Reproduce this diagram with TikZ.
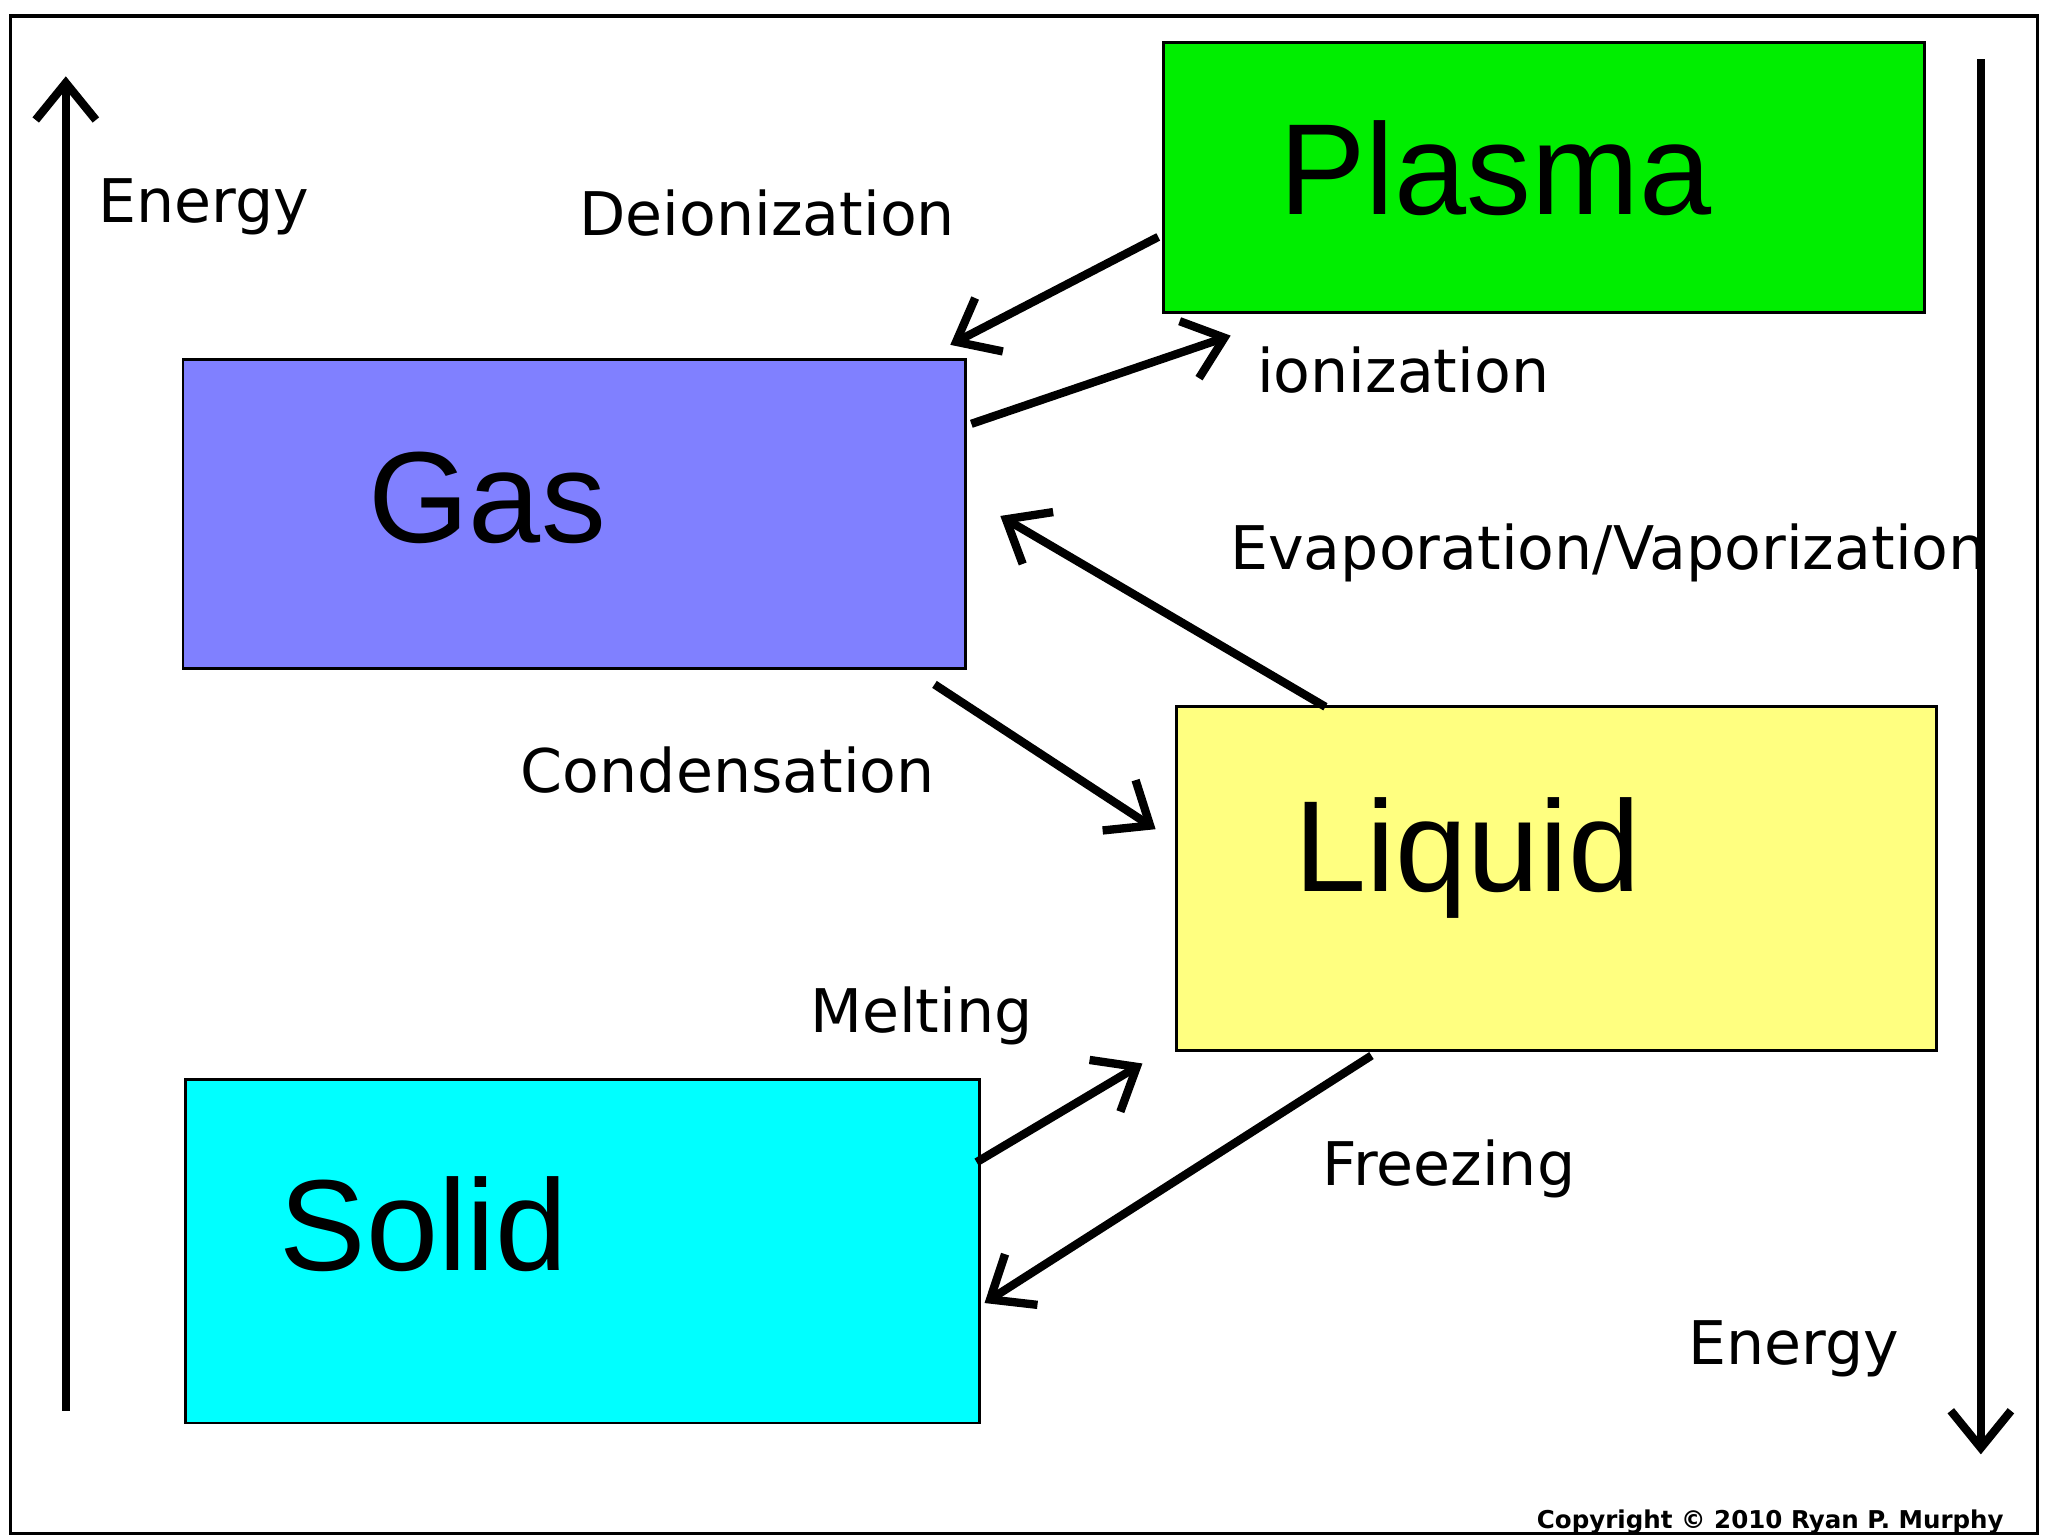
\documentclass[tikz,border=0pt]{standalone}
\usepackage{fontspec}
\setmainfont{Liberation Sans}
\newfontfamily\labelfont{DejaVu Sans}
\usetikzlibrary{arrows.meta}

\begin{document}
\begin{tikzpicture}[x=0.01cm,y=-0.01cm,>={Straight Barb[length=8pt,width=13pt]},line width=1.8pt]
  \tikzstyle{phase}=[draw=black,line width=0.6pt,anchor=north west,inner sep=0pt]
  \tikzstyle{big}=[font=\fontsize{28}{30}\selectfont]
  \tikzstyle{lbl}=[font=\labelfont\fontsize{13}{15}\selectfont]

  \useasboundingbox (0,0) rectangle (1556,1170);
  \draw[line width=0.8pt] (8,12) rectangle (1548,1165);

  \node[phase,fill={rgb,255:red,0;green,238;blue,0},minimum width=5.78cm,minimum height=2.05cm] (plasma) at (883,31) {};
  \node[phase,fill={rgb,255:red,128;green,128;blue,255},minimum width=5.94cm,minimum height=2.35cm] (gas) at (138,272) {};
  \node[phase,fill={rgb,255:red,255;green,255;blue,128},minimum width=5.77cm,minimum height=2.61cm] (liquid) at (893,536) {};
  \node[phase,fill={rgb,255:red,0;green,255;blue,255},minimum width=6.03cm,minimum height=2.61cm] (solid) at (140,819) {};

  \node[big] at (1136,128) {Plasma};
  \node[big] at (370,378) {Gas};
  \node[big] at (1115,652) {Liquid};
  \node[big] at (322,930) {Solid};

  \node[lbl] (e1) at (155,157) {Energy};
  \node[lbl] (deion) at (583,162) {Deionization};
  \node[lbl] (ion) at (1066,281) {ionization};
  \node[lbl] (evap) at (1222,420) {Evaporation/Vaporization};
  \node[lbl] (cond) at (553,585) {Condensation};
  \node[lbl] (melt) at (700,772) {Melting};
  \node[lbl] (freeze) at (1101,888) {Freezing};
  \node[lbl] (e2) at (1363,1025) {Energy};
  \node[font=\labelfont\bfseries\fontsize{5.3}{6}\selectfont] (copy) at (1345,1156) {Copyright © 2010 Ryan P. Murphy};

  % energy axes
  \coordinate (l0) at (50,1072); \coordinate (l1) at (50,58);
  \coordinate (r0) at (1505,45); \coordinate (r1) at (1505,1105);
  \draw[->] (l0) -- (l1);
  \draw[->] (r0) -- (r1);

  % transitions
  \coordinate (p1) at (880,180); \coordinate (g1) at (722,262);
  \coordinate (g2) at (738,322); \coordinate (p2) at (935,255);
  \coordinate (q1) at (1007,537); \coordinate (g3) at (760,392);
  \coordinate (g4) at (710,520); \coordinate (q2) at (878,630);
  \coordinate (s1) at (742,883); \coordinate (q3) at (868,808);
  \coordinate (q4) at (1042,802); \coordinate (s2) at (748,990);
  \draw[->] (p1) -- (g1);
  \draw[->] (g2) -- (p2);
  \draw[->] (q1) -- (g3);
  \draw[->] (g4) -- (q2);
  \draw[->] (s1) -- (q3);
  \draw[->] (q4) -- (s2);
\end{tikzpicture}
\end{document}
